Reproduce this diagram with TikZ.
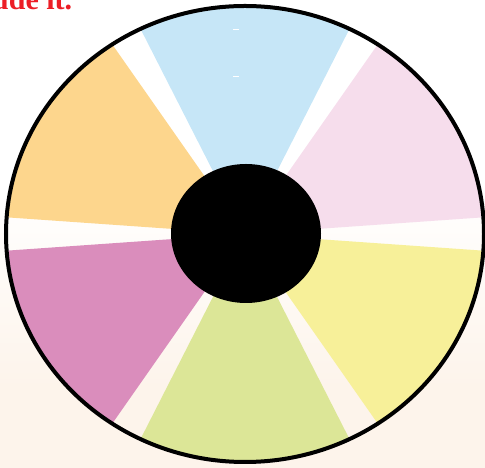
\documentclass[tikz,border=0pt]{standalone}
\usepackage{fontspec}
\setmainfont{Liberation Serif}
\usepackage{tikz}

\definecolor{capred}{RGB}{236,30,38}
\definecolor{peach}{RGB}{253,244,235}
\definecolor{skyblue}{RGB}{198,230,247}
\definecolor{rosepink}{RGB}{246,221,236}
\definecolor{apricot}{RGB}{253,214,141}
\definecolor{orchid}{RGB}{218,141,188}
\definecolor{limegreen}{RGB}{220,230,151}
\definecolor{lemon}{RGB}{247,240,153}

\begin{document}
\begin{tikzpicture}[
    x=1pt, y=1pt,
    caption/.style={font=\fontsize{30}{36}\selectfont\bfseries, text=capred,
                inner sep=0pt, anchor=base west},
    rim/.style={draw=black, line width=4pt},
    hub/.style={fill=black},
    nick/.style={draw=white, line width=1pt},
  ]
  \useasboundingbox (0,0) rectangle (485,468);
  \clip (0,0) rectangle (485,468);

  % paper: white at the top, warm peach at the bottom
  \fill[peach] (0,0) rectangle (485,80);
  \shade[bottom color=peach, top color=white] (0,80) rectangle (485,280);

  \node[caption] (title) at (-8,458) {ude it.};

  \coordinate (c) at (245,234);

  % six coloured sectors, cut to the rim
  \begin{scope}
    \clip (c) ellipse [x radius=239, y radius=228];
    \fill[rosepink]  (c) -- +(4:300)   -- +(29.5:300)  -- +(55:300)  -- cycle;
    \fill[skyblue]   (c) -- +(63:300)  -- +(90:300)    -- +(117:300) -- cycle;
    \fill[apricot]   (c) -- +(125:300) -- +(150.5:300) -- +(176:300) -- cycle;
    \fill[orchid]    (c) -- +(184:300) -- +(209.5:300) -- +(235:300) -- cycle;
    \fill[limegreen] (c) -- +(243:300) -- +(270:300)   -- +(297:300) -- cycle;
    \fill[lemon]     (c) -- +(305:300) -- +(330.5:300) -- +(356:300) -- cycle;
  \end{scope}
  \draw[nick] (233,438) -- (239,438);
  \draw[nick] (233,391) -- (239,391);

  \draw[rim] (c) ellipse [x radius=239, y radius=228];
  \fill[hub] (246,234.5) ellipse [x radius=75, y radius=69.5];
\end{tikzpicture}
\end{document}
